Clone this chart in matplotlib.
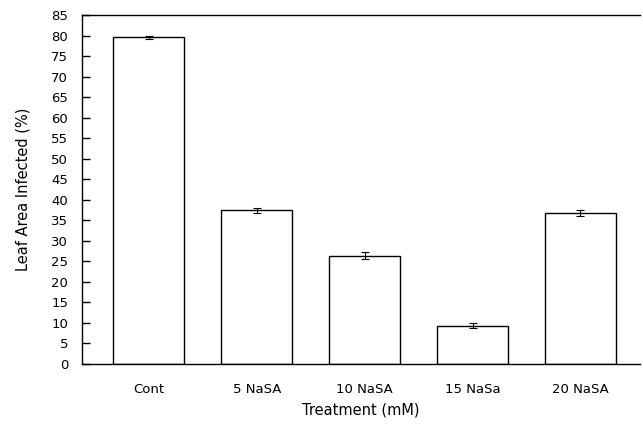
import numpy as np
import matplotlib.pyplot as plt

# treatments and mean leaf area infected (%)
treatments = ["Cont", "5 NaSA", "10 NaSA", "15 NaSa", "20 NaSA"]
infected = [79.6, 37.5, 26.4, 9.3, 36.8]
errors = [0.4, 0.6, 0.9, 0.6, 0.8]
yticks = list(range(0, 90, 5))

plt.rcParams['font.family'] = ['DejaVu Sans']

fig = plt.figure(figsize=(6.43, 4.24), dpi=100)
ax = fig.add_axes([0.1275, 0.1415, 0.8675, 0.823])

x = np.arange(len(treatments))
ax.bar(x, infected, width=0.66, facecolor='white', edgecolor='black', linewidth=1.0,
       yerr=errors, capsize=3, error_kw=dict(ecolor='black', elinewidth=0.8, capthick=0.8))

ax.set_xlim(-0.62, 4.55)
ax.set_ylim(0, 85)
ax.set_yticks(yticks)
ax.set_xticks(x)
ax.set_xticklabels(treatments, fontsize=9.5)
ax.tick_params(axis='y', direction='in', length=6, labelsize=9.5, width=1, pad=10)
ax.tick_params(axis='x', length=0, pad=14)

ax.spines['right'].set_visible(False)
for s in ['left', 'bottom', 'top']:
    ax.spines[s].set_linewidth(1.0)

ax.set_xlabel("Treatment (mM)", fontsize=10.5, labelpad=4)
ax.set_ylabel("Leaf Area Infected (%)", fontsize=10.5, labelpad=15)

fig.savefig("out.png", dpi=100)
